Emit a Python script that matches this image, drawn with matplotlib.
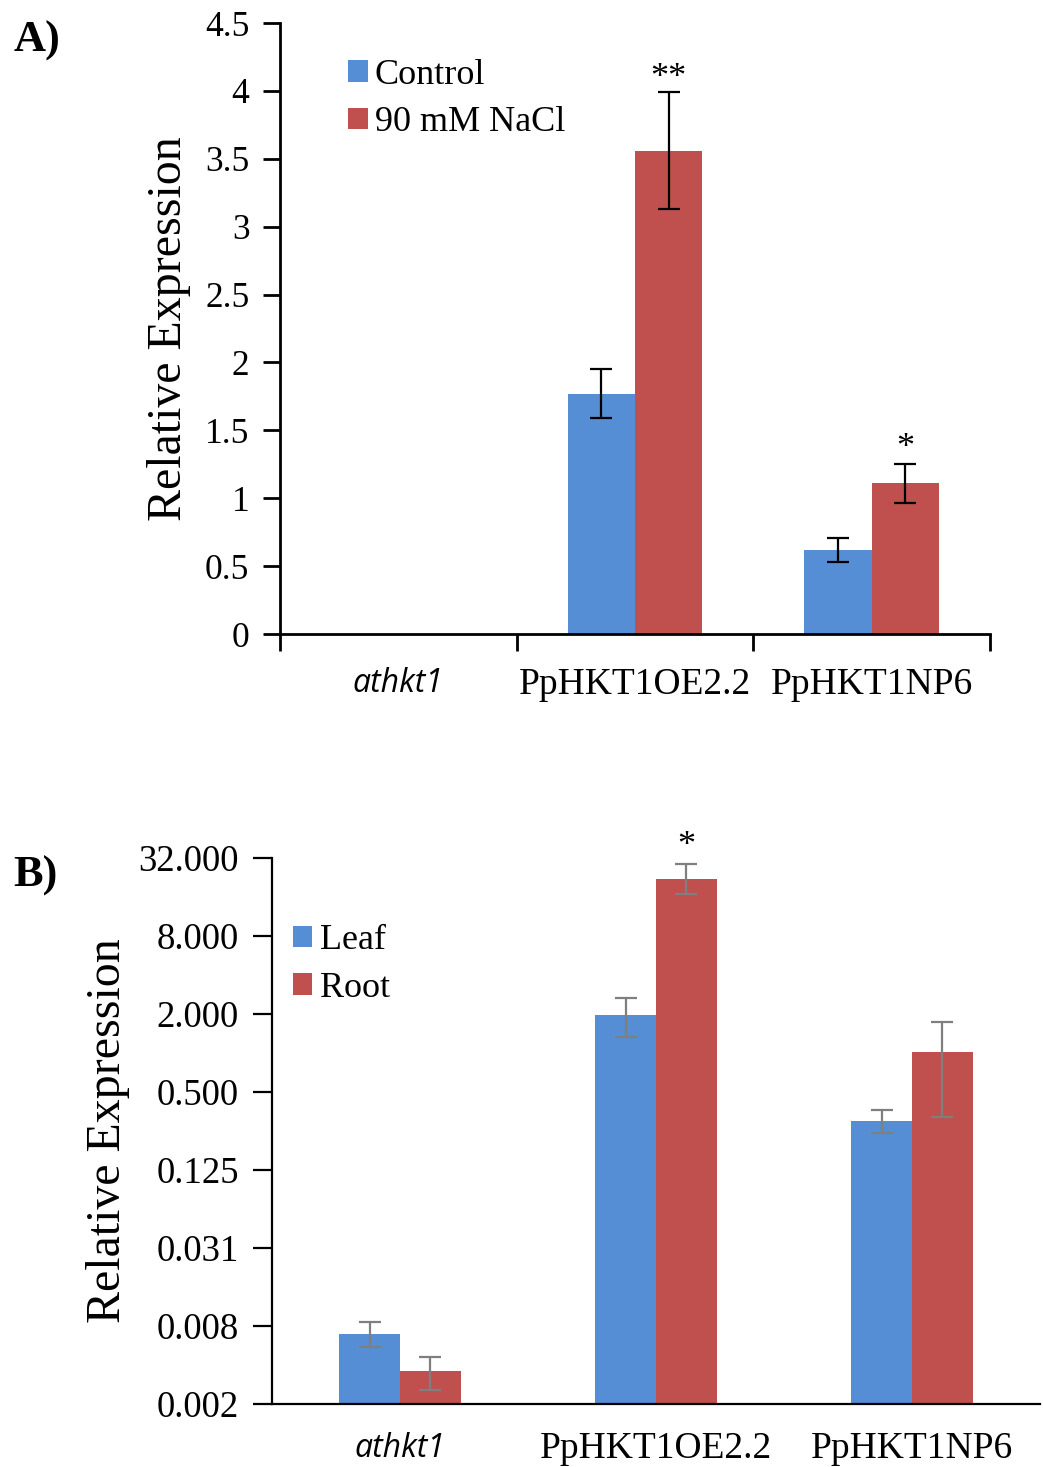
import numpy as np
import matplotlib
matplotlib.use("Agg")
import matplotlib.pyplot as plt
from matplotlib.ticker import FixedLocator, FixedFormatter

# Panel A data
lines = ["athkt1", "PpHKT1OE2.2", "PpHKT1NP6"]
control = [0.0, 1.77, 0.62]
control_err = [0.0, 0.18, 0.09]
nacl = [0.0, 3.56, 1.11]
nacl_err = [0.0, 0.43, 0.145]

# Panel B data (log2 axis)
leaf = [0.0068, 1.96, 0.30]
leaf_lo = [0.0054, 1.33, 0.241]
leaf_hi = [0.0084, 2.66, 0.363]
root = [0.0035, 22.0, 1.02]
root_lo = [0.0025, 16.9, 0.32]
root_hi = [0.0045, 28.8, 1.74]
b_ticks = [2 ** -9, 2 ** -7, 2 ** -5, 2 ** -3, 2 ** -1, 2 ** 1, 2 ** 3, 2 ** 5]
b_labels = ["0.002", "0.008", "0.031", "0.125", "0.500", "2.000", "8.000", "32.000"]

blue = "#558ED5"
red = "#C0504D"
serif = "Liberation Serif"

plt.rcParams["font.family"] = serif

fig = plt.figure(figsize=(10.43, 14.67), dpi=100)

# ---------- Panel A ----------
axA = fig.add_axes([0.2685, 0.5678, 0.6807, 0.4165])
x = np.arange(len(lines))
w = 0.285
axA.bar(x - w / 2, control, w, color=blue, label="Control")
axA.bar(x + w / 2, nacl, w, color=red, label="90 mM NaCl")
for xi, v, e in zip(x, control, control_err):
    if v > 0:
        axA.errorbar(xi - w / 2, v, yerr=e, color="black", capsize=8, lw=1.6, capthick=1.6)
for xi, v, e in zip(x, nacl, nacl_err):
    if v > 0:
        axA.errorbar(xi + w / 2, v, yerr=e, color="black", capsize=8, lw=1.6, capthick=1.6)

axA.set_xlim(-0.5, 2.5)
axA.set_ylim(0, 4.5)
axA.set_yticks(np.arange(0, 4.51, 0.5))
axA.set_yticklabels(["0", "0.5", "1", "1.5", "2", "2.5", "3", "3.5", "4", "4.5"])
axA.set_xticks([-0.5, 0.5, 1.5, 2.5])
axA.set_xticklabels([])
axA.set_xticks(x, minor=True)
axA.set_xticklabels(lines, minor=True)
axA.tick_params(axis="x", which="minor", length=0, pad=24)
axA.tick_params(axis="x", which="major", length=12, width=2)
axA.tick_params(axis="y", length=12, width=2, labelsize=25.5, pad=10)
for lab in axA.get_xticklabels(minor=True):
    lab.set_fontsize(27)
axA.get_xticklabels(minor=True)[0].set(fontfamily="Open Sans", style="italic", fontsize=23)
for s in ["top", "right"]:
    axA.spines[s].set_visible(False)
for s in ["left", "bottom"]:
    axA.spines[s].set_linewidth(2)
axA.set_ylabel("Relative Expression", fontsize=34.5, labelpad=10)
axA.text(1 + w / 2, nacl[1] + nacl_err[1] - 0.02, "**", ha="center", va="bottom", fontsize=26)
axA.text(2 + w / 2, nacl[2] + nacl_err[2] - 0.01, "*", ha="center", va="bottom", fontsize=26)
axA.legend(loc="upper left", bbox_to_anchor=(0.075, 0.965), frameon=False, fontsize=26,
           handlelength=0.55, handleheight=0.55, handletextpad=0.2, labelspacing=0.4,
           borderaxespad=0)
fig.text(0.013, 0.972, "A)", fontsize=32, fontweight="bold", va="center")

# ---------- Panel B ----------
axB = fig.add_axes([0.2608, 0.0429, 0.7363, 0.3722])
wb = 0.238
axB.set_yscale("log", base=2)
axB.bar(x - wb / 2, leaf, wb, color=blue, label="Leaf")
axB.bar(x + wb / 2, root, wb, color=red, label="Root")
leaf_err = [np.subtract(leaf, leaf_lo), np.subtract(leaf_hi, leaf)]
root_err = [np.subtract(root, root_lo), np.subtract(root_hi, root)]
axB.errorbar(x - wb / 2, leaf, yerr=leaf_err, fmt="none", ecolor="#7F7F7F",
             capsize=8, lw=1.6, capthick=1.6)
axB.errorbar(x + wb / 2, root, yerr=root_err, fmt="none", ecolor="#7F7F7F",
             capsize=8, lw=1.6, capthick=1.6)
axB.set_xlim(-0.5, 2.5)
axB.set_ylim(b_ticks[0], b_ticks[-1])
axB.yaxis.set_major_locator(FixedLocator(b_ticks))
axB.yaxis.set_major_formatter(FixedFormatter(b_labels))
axB.yaxis.set_minor_locator(FixedLocator([]))
axB.set_xticks(x)
axB.set_xticklabels(lines)
axB.tick_params(axis="x", length=0, pad=20, labelsize=27)
axB.get_xticklabels()[0].set(fontfamily="Open Sans", style="italic", fontsize=23)
axB.tick_params(axis="y", length=14, width=1.6, labelsize=26.5, pad=10)
for s in ["top", "right"]:
    axB.spines[s].set_visible(False)
for s in ["left", "bottom"]:
    axB.spines[s].set_linewidth(1.6)
axB.set_ylabel("Relative Expression", fontsize=34.5, labelpad=6)
axB.text(1 + wb / 2, root_hi[1] * 1.02, "*", ha="center", va="bottom", fontsize=26)
axB.legend(loc="upper left", bbox_to_anchor=(0.008, 0.905), frameon=False, fontsize=26,
           handlelength=0.55, handleheight=0.55, handletextpad=0.2, labelspacing=0.4,
           borderaxespad=0)
fig.text(0.013, 0.403, "B)", fontsize=32, fontweight="bold", va="center")

fig.savefig("out.png", dpi=100)
